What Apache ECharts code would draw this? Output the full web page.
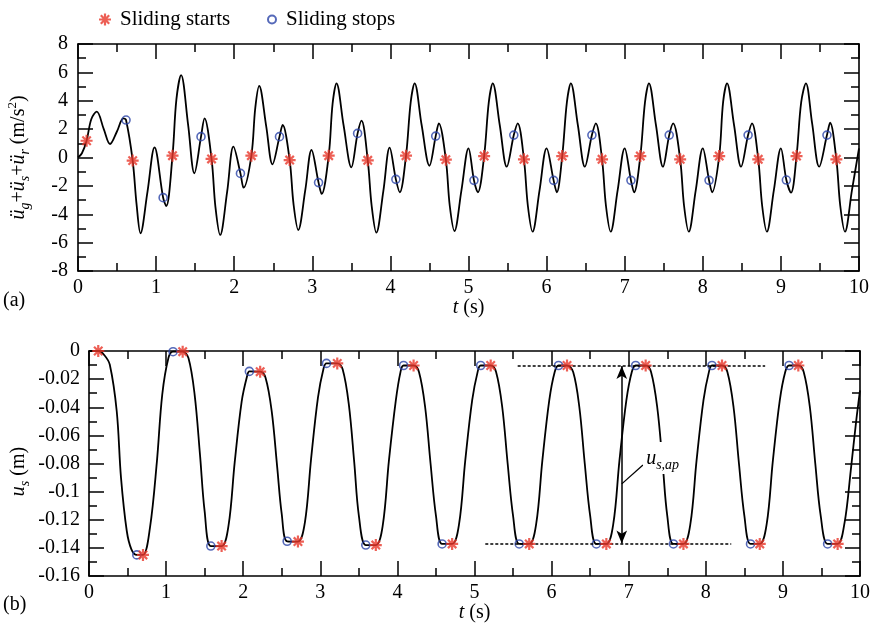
<!DOCTYPE html>
<html>
<head>
<meta charset="utf-8">
<script src="https://cdn.jsdelivr.net/npm/echarts@6/dist/echarts.min.js"></script>
<style>
html, body { margin: 0; padding: 0; background: #fff; }
#chart { width: 875px; height: 631px; }
</style>
</head>
<body>
<div id="chart"></div>
<script>
// ---- axis ranges ----
const timeRange = [0, 10, 1];          // min, max, major step (s)
const accelRange = [-8, 8, 2];         // m/s^2
const dispRange = [-0.16, 0, 0.02];    // m

// ---- (a) total acceleration  [t, value] ----
const accel = [
  [0.00, 0.00], [0.05, 0.30], [0.11, 1.18], [0.17, 2.70], [0.24, 3.23], [0.33, 2.00], [0.41, 0.95], [0.50, 1.85], [0.58, 2.76], [0.615, 2.64], [0.70, -0.22], [0.75, -3.30], [0.80, -5.34], [0.89, -2.40], [0.98, 0.72],
  [1.09, -2.83], [1.13, -3.42], [1.21, 0.13], [1.26, 4.10], [1.32, 5.81], [1.41, 2.30], [1.49, -1.11], [1.575, 1.47], [1.62, 2.76], [1.71, -0.10], [1.76, -3.50], [1.82, -5.46], [1.91, -2.40], [1.99, 0.76],
  [2.08, -1.12], [2.12, -2.13], [2.22, 0.13], [2.27, 3.50], [2.32, 5.04], [2.41, 2.20], [2.49, -0.48], [2.58, 1.47], [2.62, 2.29], [2.71, -0.18], [2.76, -3.30], [2.82, -5.11], [2.91, -2.30], [2.99, 0.53],
  [3.08, -1.77], [3.12, -2.57], [3.21, 0.13], [3.26, 3.80], [3.31, 5.23], [3.40, 2.29], [3.50, -0.69], [3.58, 1.70], [3.63, 2.60], [3.71, -0.20], [3.76, -3.40], [3.82, -5.30], [3.91, -2.35], [3.99, 0.69],
  [4.07, -1.54], [4.12, -2.45], [4.20, 0.13], [4.26, 3.90], [4.31, 5.23], [4.40, 2.29], [4.50, -0.58], [4.58, 1.51], [4.62, 2.41], [4.71, -0.15], [4.76, -3.40], [4.82, -5.18], [4.91, -2.30], [5.00, 0.65],
  [5.07, -1.61], [5.12, -2.45], [5.20, 0.10], [5.26, 3.90], [5.31, 5.23], [5.40, 2.29], [5.49, -0.65], [5.58, 1.58], [5.63, 2.41], [5.71, -0.13], [5.76, -3.40], [5.82, -5.23], [5.91, -2.30], [6.00, 0.65],
  [6.09, -1.61], [6.13, -2.45], [6.20, 0.10], [6.26, 3.90], [6.31, 5.23], [6.40, 2.29], [6.49, -0.65], [6.58, 1.58], [6.63, 2.41], [6.71, -0.13], [6.76, -3.40], [6.82, -5.23], [6.91, -2.30], [7.00, 0.65],
  [7.08, -1.61], [7.12, -2.45], [7.20, 0.10], [7.26, 3.90], [7.31, 5.23], [7.40, 2.29], [7.49, -0.65], [7.57, 1.58], [7.62, 2.41], [7.71, -0.13], [7.76, -3.40], [7.82, -5.23], [7.91, -2.30], [8.00, 0.65],
  [8.08, -1.61], [8.12, -2.45], [8.21, 0.10], [8.26, 3.90], [8.31, 5.23], [8.40, 2.29], [8.49, -0.65], [8.58, 1.58], [8.63, 2.41], [8.71, -0.13], [8.76, -3.40], [8.82, -5.23], [8.91, -2.30], [9.00, 0.65],
  [9.07, -1.59], [9.13, -2.48], [9.20, 0.10], [9.26, 3.90], [9.32, 5.23], [9.40, 2.40], [9.49, -0.65], [9.59, 1.58], [9.63, 2.45], [9.71, -0.13], [9.76, -3.40], [9.82, -5.23], [9.91, -2.30], [10.00, 0.65]
];
const accelStarts = [
  [0.11, 1.18], [0.70, -0.22], [1.21, 0.13], [1.71, -0.10], [2.22, 0.13], [2.71, -0.18], [3.21, 0.13], [3.71, -0.20], [4.20, 0.13], [4.71, -0.15],
  [5.20, 0.10], [5.71, -0.13], [6.20, 0.10], [6.71, -0.13], [7.20, 0.10], [7.71, -0.13], [8.21, 0.10], [8.71, -0.13], [9.20, 0.10], [9.71, -0.13]
];
const accelStops = [
  [0.615, 2.64], [1.09, -2.83], [1.575, 1.47], [2.08, -1.12], [2.58, 1.47], [3.08, -1.77], [3.58, 1.70], [4.07, -1.54], [4.58, 1.51], [5.07, -1.61],
  [5.58, 1.58], [6.09, -1.61], [6.58, 1.58], [7.08, -1.61], [7.57, 1.58], [8.08, -1.61], [8.58, 1.58], [9.07, -1.59], [9.59, 1.58]
];

// ---- (b) sliding displacement  [t, value] ----
const disp = [
  [0.00, 0.0000], [0.12, 0.0000], [0.20, -0.0030], [0.27, -0.0098], [0.36, -0.0430], [0.415, -0.0900], [0.49, -0.1280], [0.55, -0.1410], [0.62, -0.1450], [0.70, -0.1450],
  [0.79, -0.1260], [0.88, -0.0790], [0.95, -0.0310], [1.03, -0.0050], [1.09, -0.0005], [1.215, -0.0005],
  [1.29, -0.0050], [1.37, -0.0310], [1.44, -0.0740], [1.50, -0.1140], [1.58, -0.1387], [1.72, -0.1387],
  [1.81, -0.1240], [1.89, -0.0790], [1.98, -0.0360], [2.05, -0.0180], [2.08, -0.0145], [2.22, -0.0147],
  [2.29, -0.0190], [2.37, -0.0430], [2.44, -0.0820], [2.50, -0.1160], [2.57, -0.1353], [2.71, -0.1355],
  [2.80, -0.1220], [2.88, -0.0770], [2.97, -0.0330], [3.04, -0.0130], [3.08, -0.0088], [3.22, -0.0088],
  [3.29, -0.0130], [3.37, -0.0380], [3.44, -0.0790], [3.50, -0.1170], [3.59, -0.1380], [3.72, -0.1380],
  [3.81, -0.1240], [3.89, -0.0780], [3.98, -0.0350], [4.04, -0.0150], [4.08, -0.0103], [4.21, -0.0103],
  [4.28, -0.0150], [4.36, -0.0400], [4.43, -0.0800], [4.50, -0.1170], [4.58, -0.1372], [4.71, -0.1372],
  [4.80, -0.1230], [4.88, -0.0780], [4.97, -0.0350], [5.04, -0.0150], [5.08, -0.0103], [5.21, -0.0103],
  [5.28, -0.0150], [5.36, -0.0400], [5.43, -0.0800], [5.50, -0.1170], [5.58, -0.1372], [5.71, -0.1372],
  [5.80, -0.1230], [5.88, -0.0780], [5.97, -0.0350], [6.04, -0.0150], [6.09, -0.0103], [6.20, -0.0103],
  [6.28, -0.0150], [6.36, -0.0400], [6.43, -0.0800], [6.50, -0.1170], [6.58, -0.1372], [6.71, -0.1372],
  [6.80, -0.1230], [6.88, -0.0780], [6.97, -0.0350], [7.04, -0.0150], [7.09, -0.0103], [7.22, -0.0103],
  [7.29, -0.0150], [7.37, -0.0400], [7.44, -0.0800], [7.50, -0.1170], [7.58, -0.1372], [7.71, -0.1372],
  [7.80, -0.1230], [7.88, -0.0780], [7.97, -0.0350], [8.04, -0.0150], [8.08, -0.0103], [8.21, -0.0103],
  [8.28, -0.0150], [8.36, -0.0400], [8.43, -0.0800], [8.50, -0.1170], [8.58, -0.1372], [8.70, -0.1372],
  [8.79, -0.1230], [8.87, -0.0780], [8.96, -0.0350], [9.03, -0.0150], [9.08, -0.0103], [9.20, -0.0103],
  [9.27, -0.0150], [9.35, -0.0400], [9.42, -0.0800], [9.49, -0.1170], [9.58, -0.1372], [9.71, -0.1372],
  [9.80, -0.1220], [9.88, -0.0850], [9.95, -0.0500], [10.00, -0.0280]
];
const dispStarts = [
  [0.12, 0.0000], [0.70, -0.1450], [1.215, -0.0005], [1.72, -0.1387], [2.22, -0.0147], [2.71, -0.1355], [3.22, -0.0088], [3.72, -0.1380], [4.21, -0.0103], [4.71, -0.1372],
  [5.21, -0.0103], [5.71, -0.1372], [6.20, -0.0103], [6.71, -0.1372], [7.22, -0.0103], [7.71, -0.1372], [8.21, -0.0103], [8.70, -0.1372], [9.20, -0.0103], [9.71, -0.1372]
];
const dispStops = [
  [0.62, -0.1450], [1.09, -0.0005], [1.58, -0.1387], [2.08, -0.0145], [2.57, -0.1353], [3.08, -0.0088], [3.59, -0.1380], [4.08, -0.0103], [4.58, -0.1372], [5.08, -0.0103],
  [5.58, -0.1372], [6.09, -0.0103], [6.58, -0.1372], [7.09, -0.0103], [7.58, -0.1372], [8.08, -0.0103], [8.58, -0.1372], [9.08, -0.0103], [9.58, -0.1372]
];

// amplitude annotation (u_s,ap): reference levels and arrow position
const apTop = -0.0103;
const apBottom = -0.1372;
const apArrowT = 6.91;

// ---- styling ----
const FONT = '"Liberation Serif", "Times New Roman", serif';
const BLACK = '#000';
const RED = '#e8372b';
const BLUE = '#2a44a8';
// eight-spoke asterisk built from four bars
const STAR = 'path://M0 9.8L24 9.8L24 14.2L0 14.2Z M9.8 0L14.2 0L14.2 24L9.8 24Z M2.04 5.16L5.16 2.04L21.96 18.84L18.84 21.96Z M18.84 2.04L21.96 5.16L5.16 21.96L2.04 18.84Z';

const richBase = {
  i:   { fontFamily: FONT, fontSize: 20, fontStyle: 'italic', color: BLACK, lineHeight: 26 },
  n:   { fontFamily: FONT, fontSize: 20, color: BLACK, lineHeight: 26 },
  sub: { fontFamily: FONT, fontSize: 14, fontStyle: 'italic', color: BLACK, lineHeight: 14, verticalAlign: 'bottom' },
  sup: { fontFamily: FONT, fontSize: 13, color: BLACK, lineHeight: 13, verticalAlign: 'top' }
};

function axisFrame(extra) {
  return Object.assign({
    type: 'value',
    axisLine: { show: true, onZero: false, lineStyle: { color: BLACK, width: 1.6 } },
    axisTick: { show: true, inside: true, length: 15, lineStyle: { color: BLACK, width: 1.5 } },
    minorTick: { show: true, splitNumber: 2, length: 8, lineStyle: { color: BLACK, width: 1.5 } },
    splitLine: { show: false },
    minorSplitLine: { show: false },
    nameMoveOverlap: false
  }, extra);
}

function timeAxis(gridIndex, position, withLabels, gap) {
  return axisFrame({
    gridIndex, position,
    min: timeRange[0], max: timeRange[1], interval: timeRange[2],
    axisLabel: withLabels
      ? { show: true, margin: 7, fontFamily: FONT, fontSize: 20, color: BLACK }
      : { show: false },
    name: withLabels ? '{i|t}{n| (s)}' : '',
    nameLocation: 'middle',
    nameGap: gap || 0,
    nameTextStyle: { fontFamily: FONT, fontSize: 20, color: BLACK, rich: richBase }
  });
}

function valueAxis(gridIndex, position, range, withLabels, name, gap, margin, shift) {
  return axisFrame({
    gridIndex, position,
    min: range[0], max: range[1], interval: range[2],
    axisLabel: withLabels
      ? { show: true, margin: margin, fontFamily: FONT, fontSize: 20, color: BLACK }
      : { show: false },
    name: name || '',
    nameLocation: 'middle',
    nameRotate: 90,
    nameGap: gap || 0,
    nameTextStyle: {
      fontFamily: FONT, fontSize: 20, color: BLACK, lineHeight: 26, rich: richBase,
      padding: [0, shift || 0, 0, 0]
    }
  });
}

const chart = echarts.init(document.getElementById('chart'), null, { renderer: 'canvas' });

const option = {
  animation: false,
  backgroundColor: '#fff',
  grid: [
    { left: 78, top: 44, width: 781, height: 227, outerBoundsMode: 'none' },
    { left: 89, top: 351, width: 771, height: 225, outerBoundsMode: 'none' }
  ],
  legend: [
    {
      data: [{ name: 'Sliding starts', icon: STAR }],
      left: 94, top: 4, itemWidth: 20, itemHeight: 12,
      selectedMode: false,
      textStyle: { fontFamily: FONT, fontSize: 21, color: BLACK }
    },
    {
      data: [{ name: 'Sliding stops', icon: 'circle' }],
      left: 262, top: 4, itemWidth: 18, itemHeight: 8,
      selectedMode: false,
      textStyle: { fontFamily: FONT, fontSize: 21, color: BLACK }
    }
  ],
  xAxis: [
    timeAxis(0, 'bottom', true, 24),
    timeAxis(0, 'top', false),
    timeAxis(1, 'bottom', true, 24),
    timeAxis(1, 'top', false)
  ],
  yAxis: [
    valueAxis(0, 'left', accelRange, true,
      '{i|ü}{sub|g}{n|+}{i|ü}{sub|s}{n|+}{i|ü}{sub|r}{n| (m/s}{sup|2}{n|)}', 46, 10, 0),
    valueAxis(0, 'right', accelRange, false),
    valueAxis(1, 'left', dispRange, true, '{i|u}{sub|s}{n| (m)}', 57, 9, 16),
    valueAxis(1, 'right', dispRange, false)
  ],
  graphic: [
    { type: 'text', left: 3, top: 291, style: { text: '(a)', font: '20px ' + FONT, fill: BLACK } },
    { type: 'text', left: 3, top: 595, style: { text: '(b)', font: '20px ' + FONT, fill: BLACK } }
  ],
  series: [
    {
      name: 'accel', type: 'line', xAxisIndex: 0, yAxisIndex: 0,
      data: accel, showSymbol: false, smooth: 0.35, z: 2,
      lineStyle: { color: BLACK, width: 1.8 }
    },
    {
      name: 'disp', type: 'line', xAxisIndex: 2, yAxisIndex: 2,
      data: disp, showSymbol: false, smooth: 0.35, z: 2,
      lineStyle: { color: BLACK, width: 1.8 },
      markLine: {
        silent: true, symbol: 'none', animation: false,
        label: { show: false },
        lineStyle: { color: BLACK, width: 1.5, type: [3, 2] },
        data: [
          [{ coord: [5.56, apTop] }, { coord: [8.77, apTop] }],
          [{ coord: [5.14, apBottom] }, { coord: [8.33, apBottom] }],
          [{ coord: [6.91, -0.0945], lineStyle: { type: 'solid', width: 1.3 } }, { coord: [7.185, -0.081] }]
        ]
      },
      markPoint: {
        silent: true, animation: false,
        symbol: 'rect', symbolSize: 1,
        itemStyle: { color: 'rgba(0,0,0,0)' },
        data: [{
          coord: [7.44, -0.076],
          label: {
            show: true, position: 'inside',
            formatter: '{i|u}{sub|s,ap}',
            backgroundColor: '#fff', padding: [4, 3, 2, 3],
            rich: richBase
          }
        }]
      }
    },
    {
      name: 'amplitude', type: 'line', xAxisIndex: 2, yAxisIndex: 2,
      data: [], z: 3,
      markLine: {
        silent: true, animation: false,
        symbol: ['arrow', 'arrow'], symbolSize: [8, 13],
        label: { show: false },
        lineStyle: { color: BLACK, width: 1.5, type: 'solid' },
        itemStyle: { color: BLACK },
        data: [[{ coord: [apArrowT, apTop - 0.0004] }, { coord: [apArrowT, apBottom + 0.0004] }]]
      }
    },
    {
      name: 'Sliding stops', type: 'scatter', xAxisIndex: 0, yAxisIndex: 0,
      data: accelStops, symbol: 'circle', symbolSize: 8, z: 4,
      itemStyle: { color: 'rgba(255,255,255,0)', borderColor: BLUE, borderWidth: 1.6 }
    },
    {
      name: 'Sliding starts', type: 'scatter', xAxisIndex: 0, yAxisIndex: 0,
      data: accelStarts, symbol: STAR, symbolSize: 12, z: 5,
      itemStyle: { color: RED }
    },
    {
      name: 'Sliding stops', type: 'scatter', xAxisIndex: 2, yAxisIndex: 2,
      data: dispStops, symbol: 'circle', symbolSize: 8, z: 4,
      itemStyle: { color: 'rgba(255,255,255,0)', borderColor: BLUE, borderWidth: 1.6 }
    },
    {
      name: 'Sliding starts', type: 'scatter', xAxisIndex: 2, yAxisIndex: 2,
      data: dispStarts, symbol: STAR, symbolSize: 12, z: 5,
      itemStyle: { color: RED }
    }
  ]
};

chart.setOption(option);
</script>
</body>
</html>
